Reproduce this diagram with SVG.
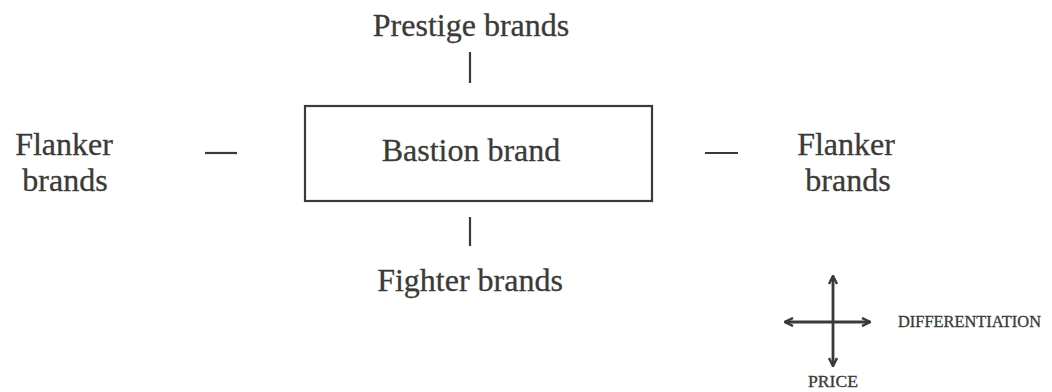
<svg xmlns="http://www.w3.org/2000/svg" width="1052" height="392" viewBox="0 0 1052 392">
<defs>
<style>
.t{font-family:"Liberation Serif","Times New Roman",serif;font-size:32px;fill:#3a3a36;stroke:#3a3a36;stroke-width:0.3;text-anchor:middle}
.s{font-family:"Liberation Serif","Times New Roman",serif;font-size:16px;fill:#3a3a36;stroke:#3a3a36;stroke-width:0.3}
.ln{stroke:#3a3a36;stroke-width:2.2;fill:none}
.ax{stroke:#3a3a36;stroke-width:2.8;fill:none}
</style>
<marker id="ah" viewBox="0 0 10 10" refX="9" refY="5" markerWidth="10" markerHeight="10" orient="auto" markerUnits="userSpaceOnUse">
<path d="M1,1 L9,5 L1,9" fill="none" stroke="#3a3a36" stroke-width="2.5"/>
</marker>
</defs>
<rect width="1052" height="392" fill="#ffffff"/>
<g id="bastion">
<rect x="305" y="106" width="347" height="95" class="ln"/>
<text x="471" y="161" class="t">Bastion brand</text>
</g>
<g id="prestige"><text x="471" y="36" class="t">Prestige brands</text></g>
<g id="fighter"><text x="470" y="291" class="t">Fighter brands</text></g>
<g id="flanker-left"><text x="64" y="155" class="t">Flanker</text><text x="65" y="191" class="t">brands</text></g>
<g id="flanker-right"><text x="846" y="155" class="t">Flanker</text><text x="848" y="191" class="t">brands</text></g>
<g id="connectors">
<line x1="470" y1="52" x2="470" y2="83" class="ln"/>
<line x1="470" y1="217" x2="470" y2="246" class="ln"/>
<line x1="205" y1="153" x2="237" y2="153" class="ln"/>
<line x1="705" y1="153" x2="738" y2="153" class="ln"/>
</g>
<g id="axes">
<line x1="833" y1="322" x2="833" y2="276" class="ax" marker-end="url(#ah)"/>
<line x1="833" y1="322" x2="833" y2="366" class="ax" marker-end="url(#ah)"/>
<line x1="833" y1="322" x2="785" y2="322" class="ax" marker-end="url(#ah)"/>
<line x1="833" y1="322" x2="870" y2="322" class="ax" marker-end="url(#ah)"/>
<text x="898" y="327" class="s" textLength="143" lengthAdjust="spacingAndGlyphs">DIFFERENTIATION</text>
<text x="808" y="387" class="s" textLength="50" lengthAdjust="spacingAndGlyphs">PRICE</text>
</g>
</svg>
